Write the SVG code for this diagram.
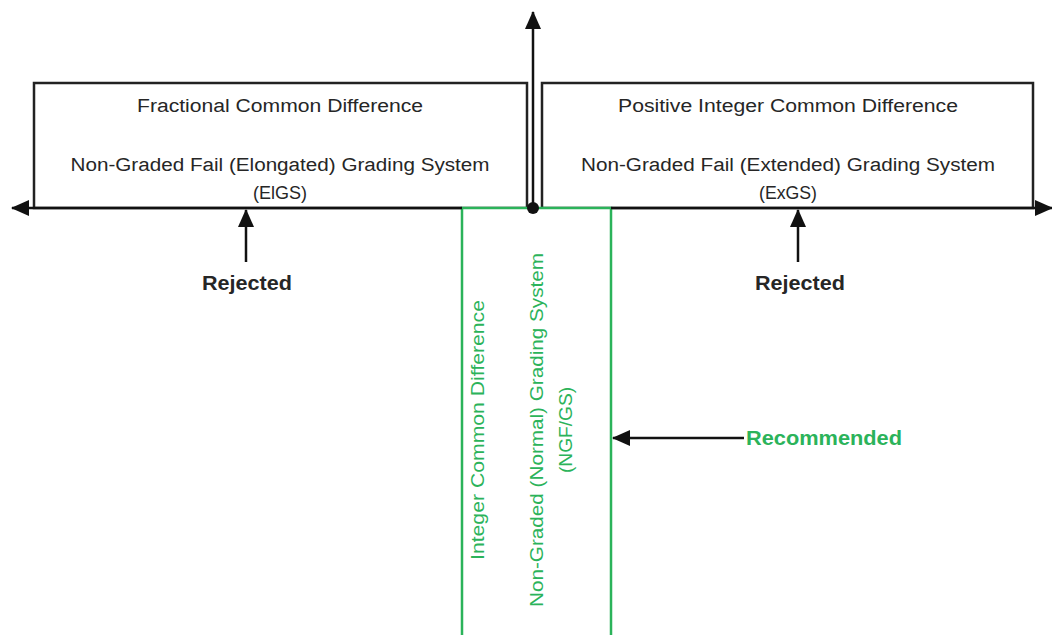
<svg xmlns="http://www.w3.org/2000/svg" width="1052" height="635" viewBox="0 0 1052 635">
<defs>
<style>
.box{fill:#fff;stroke:#222;stroke-width:2.5}
.gbox{fill:#fff;stroke:#2bb35a;stroke-width:2.5}
.ln{stroke:#111;stroke-width:2.5;fill:none}
.t{font-family:"Liberation Sans",Arial,sans-serif;font-size:18px;fill:#262626;text-anchor:middle}
.g{font-family:"Liberation Sans",Arial,sans-serif;font-size:18px;fill:#2bb35a;text-anchor:middle}
.b{font-family:"Liberation Sans",Arial,sans-serif;font-size:20px;font-weight:bold;fill:#262626;text-anchor:middle}
.gb{font-family:"Liberation Sans",Arial,sans-serif;font-size:20px;font-weight:bold;fill:#2bb35a}
</style>
<marker id="ahL" markerWidth="18" markerHeight="16" refX="17" refY="8" orient="auto" markerUnits="userSpaceOnUse" viewBox="0 0 18 16">
<path d="M0,0 L18,8 L0,16 Z" fill="#111"/>
</marker>
</defs>
<rect width="1052" height="635" fill="#fff"/>
<g id="node-fractional">
<rect class="box" x="34" y="83" width="493" height="125"/>
<text class="t" x="280" y="112" textLength="286" lengthAdjust="spacingAndGlyphs">Fractional Common Difference</text>
<text class="t" x="280" y="171" textLength="419" lengthAdjust="spacingAndGlyphs">Non-Graded Fail (Elongated) Grading System</text>
<text class="t" x="280" y="199" textLength="54" lengthAdjust="spacingAndGlyphs">(ElGS)</text>
</g>
<g id="node-positive">
<rect class="box" x="542" y="83" width="491" height="125"/>
<text class="t" x="788" y="112" textLength="340" lengthAdjust="spacingAndGlyphs">Positive Integer Common Difference</text>
<text class="t" x="788" y="171" textLength="414" lengthAdjust="spacingAndGlyphs">Non-Graded Fail (Extended) Grading System</text>
<text class="t" x="788" y="199" textLength="58" lengthAdjust="spacingAndGlyphs">(ExGS)</text>
</g>
<g id="node-integer">
<rect class="gbox" x="462" y="208" width="149" height="440"/>
<text class="g" transform="translate(484,430) rotate(-90)" textLength="260" lengthAdjust="spacingAndGlyphs">Integer Common Difference</text>
<text class="g" transform="translate(543,430) rotate(-90)" textLength="354" lengthAdjust="spacingAndGlyphs">Non-Graded (Normal) Grading System</text>
<text class="g" transform="translate(572,430) rotate(-90)" textLength="86" lengthAdjust="spacingAndGlyphs">(NGF/GS)</text>
</g>
<g id="connectors">
<line class="ln" x1="462" y1="208" x2="12" y2="208" marker-end="url(#ahL)"/>
<line class="ln" x1="611" y1="208" x2="1052" y2="208" marker-end="url(#ahL)"/>
<line class="ln" x1="533" y1="208" x2="533" y2="12" marker-end="url(#ahL)"/>
<circle cx="533" cy="208" r="6" fill="#111"/>
<line class="ln" x1="246" y1="262" x2="246" y2="210" marker-end="url(#ahL)"/>
<line class="ln" x1="798" y1="262" x2="798" y2="210" marker-end="url(#ahL)"/>
<line class="ln" x1="744" y1="438" x2="613" y2="438" marker-end="url(#ahL)"/>
</g>
<g id="labels">
<text class="b" x="247" y="290" textLength="90" lengthAdjust="spacingAndGlyphs">Rejected</text>
<text class="b" x="800" y="290" textLength="90" lengthAdjust="spacingAndGlyphs">Rejected</text>
<text class="gb" x="746" y="445" textLength="156" lengthAdjust="spacingAndGlyphs">Recommended</text>
</g>
</svg>
